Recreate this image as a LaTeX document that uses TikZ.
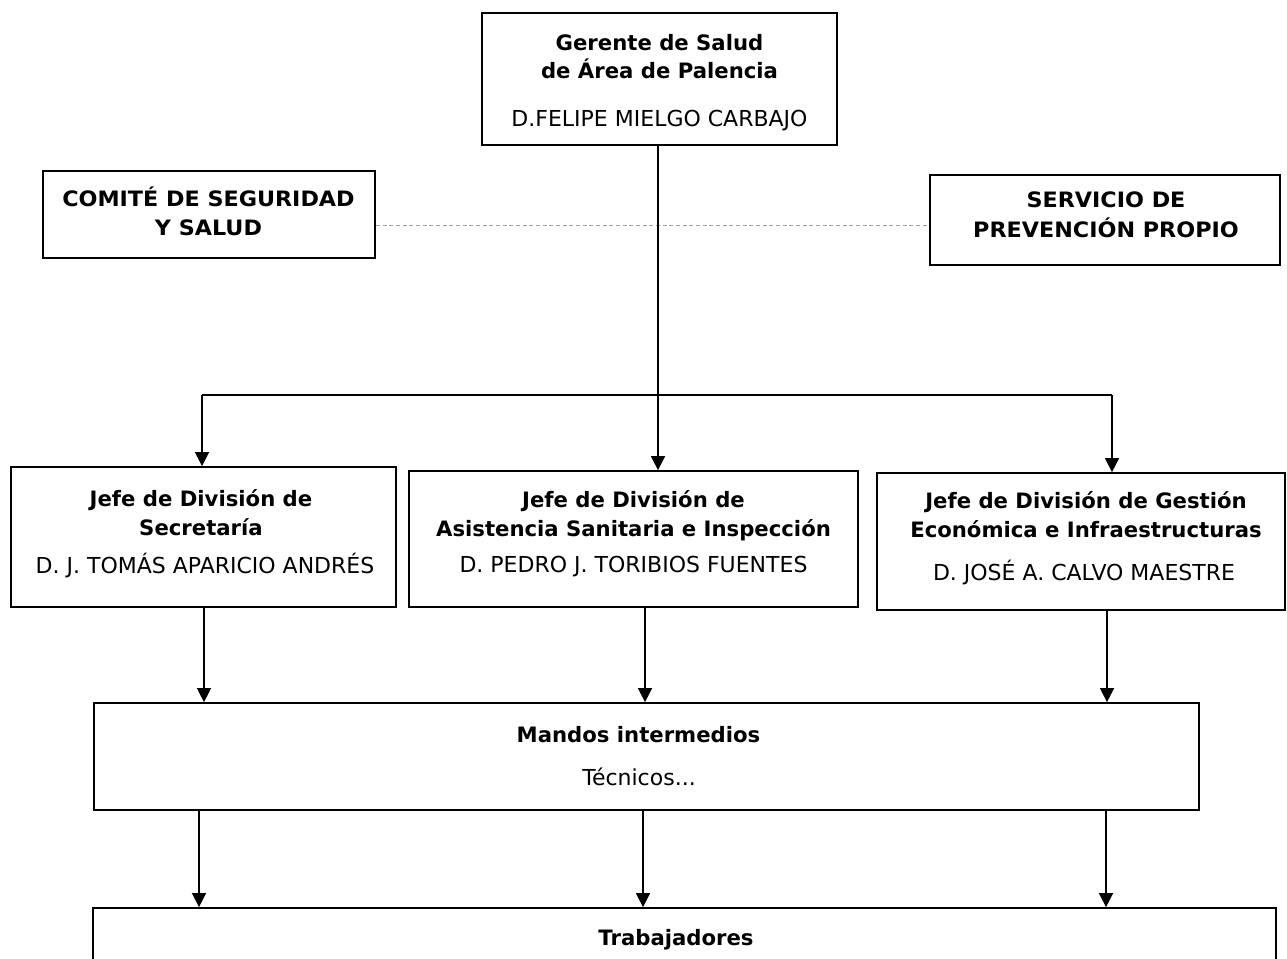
\documentclass[tikz,border=0pt]{standalone}
\usepackage{fontspec}
\setmainfont{DejaVu Sans}
\usetikzlibrary{arrows.meta}
\begin{document}
\begin{tikzpicture}[x=0.75pt,y=-0.75pt,
  box/.style={draw=black, line width=1.3pt, rectangle, inner sep=0pt, fill=white},
  bt/.style={font=\fontsize{15.9}{19}\selectfont\bfseries, anchor=base, inner sep=0pt},
  rt/.style={font=\fontsize{16.5}{20}\selectfont, anchor=base, inner sep=0pt},
  conn/.style={draw=black, line width=1.1pt},
  arr/.style={conn, -{Triangle[width=10.5pt,length=10.5pt]}},
  rel/.style={draw=gray!75, line width=0.6pt, dash pattern=on 3pt off 2pt}]
\useasboundingbox (0,0) rectangle (1287,959);
\fill[white] (0,0) rectangle (1287,959);

% boxes
\node[box, minimum width=266.25pt, minimum height=99pt] (top) at (659.5,79) {};
\node[box, minimum width=249pt, minimum height=65.25pt] (com) at (209,214.5) {};
\node[box, minimum width=262.5pt, minimum height=67.5pt] (serv) at (1105,220) {};
\node[box, minimum width=288.75pt, minimum height=105pt] (sec) at (203.5,537) {};
\node[box, minimum width=336.75pt, minimum height=102pt] (asis) at (633.5,539) {};
\node[box, minimum width=306pt, minimum height=102.75pt] (ges) at (1081,541.5) {};
\node[box, minimum width=828.75pt, minimum height=80.25pt] (man) at (646.5,756.5) {};
\node[box, minimum width=887.25pt, minimum height=63pt] (trab) at (684.5,950) {};

% texts
\node[bt] (topA) at (659.5,51) {Gerente de Salud};
\node[bt] (topB) at (659.5,79) {de Área de Palencia};
\node[rt] (topC) at (659.5,127) {D.FELIPE MIELGO CARBAJO};

\node[bt, xscale=1.05] (comA) at (208.5,206.5) {COMITÉ DE SEGURIDAD};
\node[bt, xscale=1.05] (comB) at (208.5,235) {Y SALUD};

\node[bt, xscale=1.05] (servA) at (1106,208) {SERVICIO DE};
\node[bt, xscale=1.05] (servB) at (1106,238) {PREVENCIÓN PROPIO};

\node[bt] (secA) at (201,506) {Jefe de División de};
\node[bt] (secB) at (201,535) {Secretaría};
\node[rt] (secC) at (205,573) {D. J. TOMÁS APARICIO ANDRÉS};

\node[bt] (asisA) at (633.5,507) {Jefe de División de};
\node[bt] (asisB) at (633.5,536) {Asistencia Sanitaria e Inspección};
\node[rt] (asisC) at (633.5,572) {D. PEDRO J. TORIBIOS FUENTES};

\node[bt] (gesA) at (1086,508) {Jefe de División de Gestión};
\node[bt] (gesB) at (1086,537) {Económica e Infraestructuras};
\node[rt] (gesC) at (1084,580) {D. JOSÉ A. CALVO MAESTRE};

\node[bt] (manA) at (638.5,742) {Mandos intermedios};
\node[rt] (manB) at (639,785) {Técnicos...};

\node[bt] (trabA) at (676,945) {Trabajadores};

% connectors
\coordinate (hl) at (202,395);
\coordinate (hr) at (1112,395);
\draw[rel] (com.east |- 0,225) -- (serv.west |- 0,225);
\draw[arr] (658,0 |- top.south) -- (658,0 |- asis.north);
\draw[conn] (hl) -- (hr);
\draw[arr] (hl) -- (hl |- sec.north);
\draw[arr] (hr) -- (hr |- ges.north);

\draw[arr] (204,0 |- sec.south) -- (204,0 |- man.north);
\draw[arr] (645,0 |- asis.south) -- (645,0 |- man.north);
\draw[arr] (1107,0 |- ges.south) -- (1107,0 |- man.north);

\draw[arr] (199,0 |- man.south) -- (199,0 |- trab.north);
\draw[arr] (643,0 |- man.south) -- (643,0 |- trab.north);
\draw[arr] (1106,0 |- man.south) -- (1106,0 |- trab.north);
\end{tikzpicture}
\end{document}
